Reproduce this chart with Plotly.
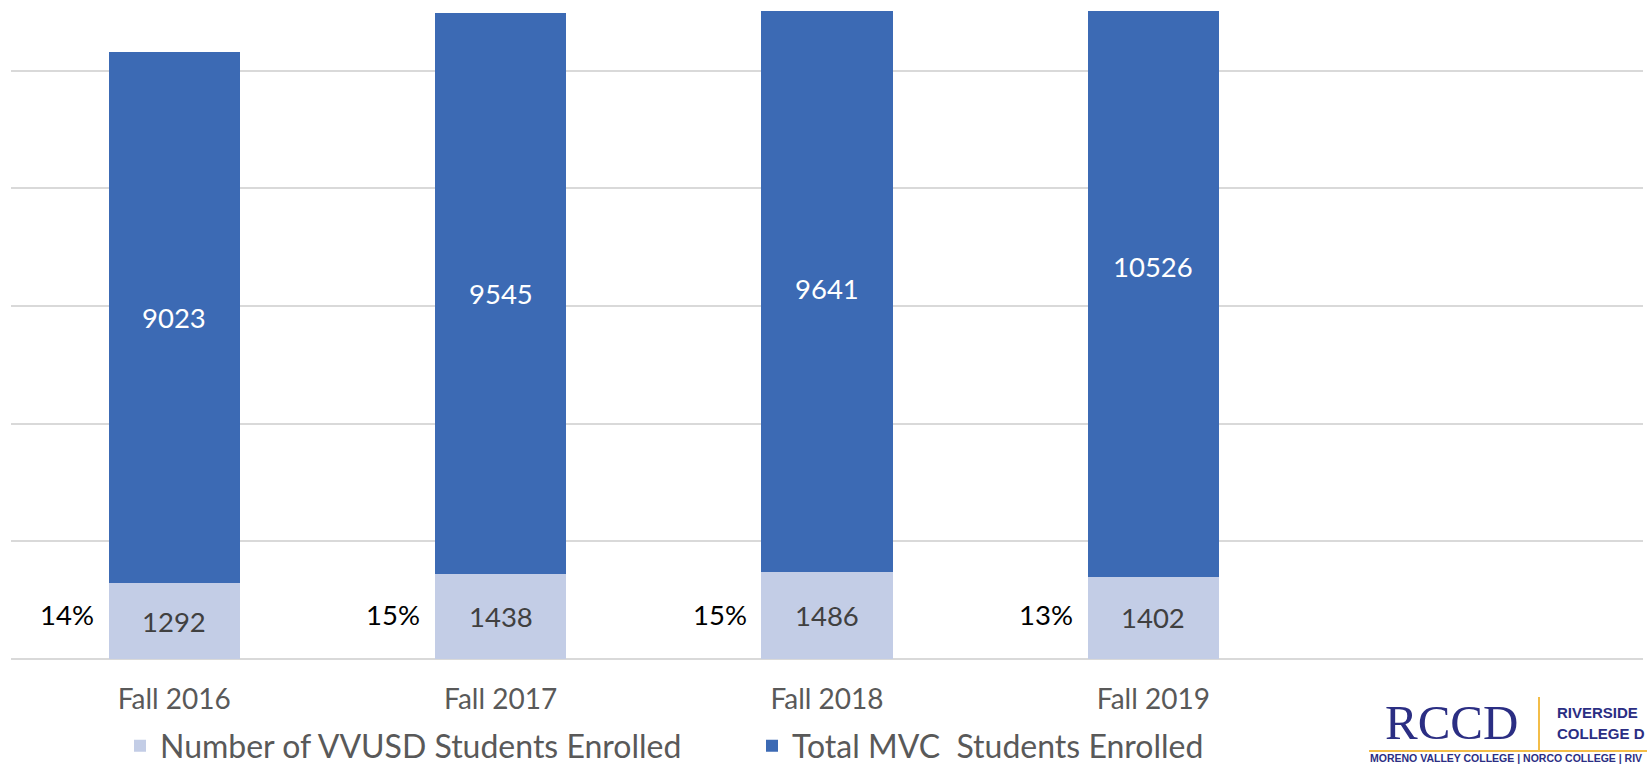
import plotly.graph_objects as go

categories = ["Fall 2016", "Fall 2017", "Fall 2018", "Fall 2019"]
vvusd = [1292, 1438, 1486, 1402]
total_mvc = [9023, 9545, 9641, 10526]
pct_labels = ["14%", "15%", "15%", "13%"]

LIGHT = "#c3cde6"
DARK = "#3c6ab4"
NAVY = "#2b2e83"
GOLD = "#f3bd48"
FONT = "Lato"

W, H = 1647, 765
ML, MR, MT, MB = 11, 4, 11, 106
PW, PH = W - ML - MR, H - MT - MB


def px(xp):
    return (xp - ML) / PW


def py(yp):
    return (H - MB - yp) / PH


fig = go.Figure()
fig.add_bar(name="Number of VVUSD Students Enrolled", x=categories, y=vvusd,
            marker=dict(color=LIGHT, line_width=0))
fig.add_bar(name="Total MVC\u00a0 Students Enrolled", x=categories, y=total_mvc,
            marker=dict(color=DARK, line_width=0))

ann = []
for i, c in enumerate(categories):
    ann.append(dict(x=c, y=vvusd[i] + total_mvc[i] / 2, xref="x", yref="y",
                    text=str(total_mvc[i]), showarrow=False,
                    font=dict(family=FONT, size=27.5, color="#ffffff")))
    ann.append(dict(x=c, y=vvusd[i] / 2, xref="x", yref="y",
                    text=str(vvusd[i]), showarrow=False,
                    font=dict(family=FONT, size=27.5, color="#404040")))
    ann.append(dict(x=i - 0.2, y=750, xref="x", yref="y", xanchor="right",
                    xshift=-13, text=pct_labels[i], showarrow=False,
                    font=dict(family=FONT, size=27.5, color="#000000")))

# logo
ann.append(dict(x=px(1451), y=py(722), xref="paper", yref="paper", text="RCCD",
                showarrow=False, xanchor="center", yanchor="middle",
                font=dict(family="Liberation Serif", size=49, color=NAVY)))
ann.append(dict(x=px(1555), y=py(712.5), xref="paper", yref="paper",
                text="<b>RIVERSIDE</b>", showarrow=False,
                xanchor="left", yanchor="middle",
                font=dict(family="Liberation Sans", size=15, color=NAVY)))
ann.append(dict(x=px(1555), y=py(733), xref="paper", yref="paper",
                text="<b>COLLEGE D</b>", showarrow=False,
                xanchor="left", yanchor="middle",
                font=dict(family="Liberation Sans", size=15, color=NAVY)))
ann.append(dict(x=px(1368), y=py(758), xref="paper", yref="paper",
                text="<b>MORENO VALLEY COLLEGE | NORCO COLLEGE | RIV</b>",
                showarrow=False, xanchor="left", yanchor="middle",
                font=dict(family="Liberation Sans", size=10.5, color=NAVY)))

shapes = [
    dict(type="line", xref="paper", yref="paper", x0=px(1539), x1=px(1539),
         y0=py(697), y1=py(751), line=dict(color=GOLD, width=2)),
    dict(type="line", xref="paper", yref="paper", x0=px(1369), x1=px(1660),
         y0=py(751), y1=py(751), line=dict(color=GOLD, width=2)),
]

fig.update_layout(
    width=W, height=H,
    margin=dict(l=ML, r=MR, t=MT, b=MB, pad=0, autoexpand=False),
    paper_bgcolor="#ffffff", plot_bgcolor="#ffffff",
    barmode="stack", bargap=0.598,
    showlegend=True,
    legend=dict(orientation="h", x=px(120), xanchor="left", y=py(746), yanchor="middle",
                font=dict(family=FONT, size=32, color="#595959"),
                entrywidthmode="pixels", entrywidth=587, traceorder="normal",
                itemclick=False, bgcolor="rgba(0,0,0,0)"),
    annotations=ann, shapes=shapes,
    font=dict(family=FONT),
)
fig.update_xaxes(type="category", range=[-0.5, 4.5], showgrid=False, zeroline=False,
                 showline=False, ticks="", ticklabelstandoff=21,
                 tickfont=dict(family=FONT, size=28, color="#595959"))
fig.update_yaxes(range=[0, 11015], dtick=2000, showgrid=True, gridcolor="#d9d9d9",
                 gridwidth=1.5, zeroline=True, zerolinecolor="#d9d9d9", zerolinewidth=1.5,
                 showticklabels=False, ticks="")

fig.write_html("out.html", config={"displayModeBar": False},
               post_script="document.body.style.margin='0';document.body.style.overflow='hidden';")
